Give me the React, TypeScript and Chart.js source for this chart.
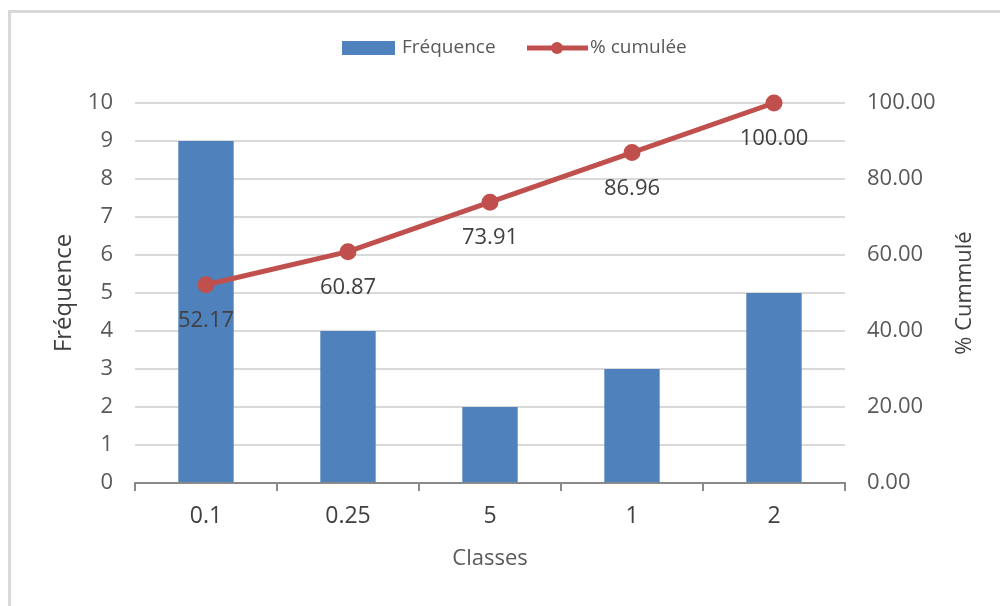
import React, { useEffect, useRef } from "react";
import { Chart, registerables } from "chart.js";

Chart.register(...registerables);

const categories = ["0.1", "0.25", "5", "1", "2"];
const frequencies = [9, 4, 2, 3, 5];
const cumulative = [52.17, 60.87, 73.91, 86.96, 100.0];

const BLUE = "#4f81bd";
const RED = "#c0504d";
const TEXT = "#595959";
const FONT = "'Open Sans', sans-serif";

const framePlugin = {
  id: "frame",
  beforeDraw(chart: any) {
    const ctx = chart.ctx;
    ctx.save();
    ctx.fillStyle = "#ffffff";
    ctx.fillRect(0, 0, chart.width, chart.height);
    ctx.fillStyle = "#d9d9d9";
    ctx.fillRect(8, 10, 3, chart.height);
    ctx.fillRect(8, 10, chart.width, 3);
    ctx.restore();
  },
};

const legendPlugin = {
  id: "customLegend",
  afterDraw(chart: any) {
    const ctx = chart.ctx;
    ctx.save();
    const y = 48;
    ctx.fillStyle = BLUE;
    ctx.fillRect(342, y - 7, 53, 14);
    ctx.font = `19px ${FONT}`;
    ctx.fillStyle = TEXT;
    ctx.textBaseline = "middle";
    ctx.textAlign = "left";
    ctx.fillText("Fréquence", 402, y);
    ctx.strokeStyle = RED;
    ctx.lineWidth = 5;
    ctx.beginPath();
    ctx.moveTo(527, y);
    ctx.lineTo(588, y);
    ctx.stroke();
    ctx.fillStyle = RED;
    ctx.beginPath();
    ctx.arc(557, y, 6, 0, Math.PI * 2);
    ctx.fill();
    ctx.fillStyle = TEXT;
    ctx.fillText("% cumulée", 590, y);

    // right axis title, reading bottom-to-top
    ctx.translate(965, 293);
    ctx.rotate(-Math.PI / 2);
    ctx.textAlign = "center";
    ctx.font = `22px ${FONT}`;
    ctx.fillStyle = "#404040";
    ctx.fillText("% Cummulé", 0, 0);
    ctx.restore();
  },
};

const labelPlugin = {
  id: "pointLabels",
  afterDatasetsDraw(chart: any) {
    const ctx = chart.ctx;
    const meta = chart.getDatasetMeta(1);
    const data = chart.data.datasets[1].data as number[];
    ctx.save();
    ctx.font = `22px ${FONT}`;
    ctx.fillStyle = "#404040";
    ctx.textAlign = "center";
    ctx.textBaseline = "middle";
    meta.data.forEach((pt: any, i: number) => {
      ctx.fillText(Number(data[i]).toFixed(2), pt.x, pt.y + 36);
    });
    ctx.restore();
  },
};

export default function App() {
  const ref = useRef<HTMLCanvasElement>(null);
  useEffect(() => {
    if (!ref.current) return;
    const chart = new Chart(ref.current, {
      type: "bar",
      data: {
        labels: categories,
        datasets: [
          {
            type: "bar",
            label: "Fréquence",
            data: frequencies,
            backgroundColor: BLUE,
            yAxisID: "y",
            barPercentage: 0.39,
            categoryPercentage: 1,
            order: 2,
          },
          {
            type: "line",
            label: "% cumulée",
            data: cumulative,
            borderColor: RED,
            backgroundColor: RED,
            borderWidth: 5,
            pointRadius: 6,
            pointBackgroundColor: RED,
            pointBorderColor: RED,
            yAxisID: "y1",
            order: 1,
            clip: false,
          },
        ],
      },
      options: {
        responsive: false,
        animation: false,
        layout: { padding: { top: 103, left: 0, right: 0, bottom: 0 } },
        plugins: {
          legend: { display: false },
          tooltip: { enabled: false },
        },
        scales: {
          x: {
            offset: true,
            grid: {
              offset: true,
              drawOnChartArea: false,
              drawTicks: true,
              tickLength: 8,
              color: "#898989",
              lineWidth: 2,
            },
            border: { display: true, color: "#898989", width: 2 },
            ticks: {
              color: "#404040",
              font: { family: FONT, size: 23 },
              padding: 12,
            },
            title: {
              display: true,
              text: "Classes",
              color: TEXT,
              font: { family: FONT, size: 22 },
              padding: { top: 0, bottom: 34 },
            },
            afterFit(scale: any) {
              scale.height = 123;
            },
          },
          y: {
            position: "left",
            min: 0,
            max: 10,
            ticks: {
              stepSize: 1,
              color: TEXT,
              font: { family: FONT, size: 22 },
              padding: 22,
            },
            grid: { color: "#d9d9d9", lineWidth: 2, drawTicks: false },
            border: { display: false },
            title: {
              display: true,
              text: "Fréquence",
              color: "#404040",
              font: { family: FONT, size: 24 },
              padding: { top: 50, bottom: 0 },
            },
            afterFit(scale: any) {
              scale.width = 135;
            },
          },
          y1: {
            position: "right",
            min: 0,
            max: 100,
            ticks: {
              stepSize: 20,
              color: TEXT,
              font: { family: FONT, size: 22 },
              padding: 22,
              callback: (v: any) => Number(v).toFixed(2),
            },
            grid: { drawOnChartArea: false, drawTicks: false },
            border: { display: false },
            title: { display: false },
            afterFit(scale: any) {
              scale.width = 155;
            },
          },
        },
      },
      plugins: [framePlugin, legendPlugin, labelPlugin],
    });
    return () => chart.destroy();
  }, []);
  return (
    <div style={{ position: "fixed", left: 0, top: 0, width: 1000, height: 606 }}>
      <canvas ref={ref} width={1000} height={606} />
    </div>
  );
}
